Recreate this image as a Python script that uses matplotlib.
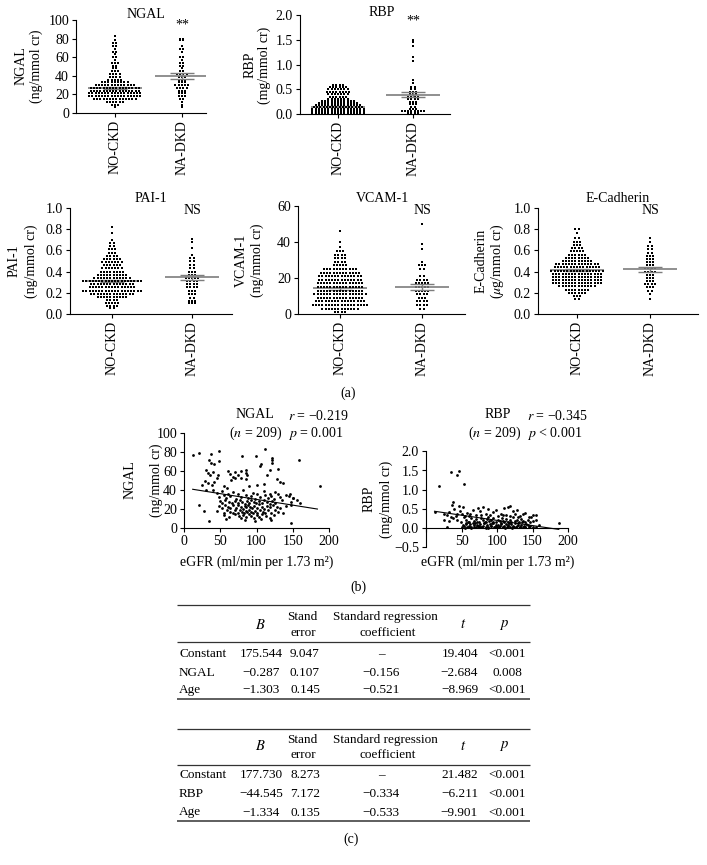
import matplotlib
matplotlib.use("Agg")
import matplotlib.pyplot as plt
import numpy as np

plt.rcParams["font.family"] = "Liberation Serif"
plt.rcParams["mathtext.fontset"] = "stix"
plt.rcParams["font.size"] = 10
plt.rcParams["axes.linewidth"] = 0.8
plt.rcParams["xtick.major.width"] = 0.8
plt.rcParams["ytick.major.width"] = 0.8
plt.rcParams["xtick.major.size"] = 3
plt.rcParams["ytick.major.size"] = 3

# ---------------------------------------------------------------- data ----
groups = ["NO-CKD", "NA-DKD"]

# dot plots: value level of each row and number of dots in that row
ngal_ckd_lv = [6, 9, 12, 15, 18, 21, 24, 27, 30, 33, 36, 39, 42, 45, 48, 51, 54, 57, 60, 63, 66, 69, 72, 75, 78, 83]
ngal_ckd_n = [1, 3, 6, 14, 17, 17, 16, 16, 13, 9, 5, 4, 4, 3, 2, 2, 3, 1, 2, 1, 2, 1, 2, 2, 1, 1]
ngal_dkd_lv = [6, 9, 12, 15, 18, 21, 24, 27, 30, 33, 36, 39, 42, 45, 48, 51, 54, 57, 60, 66, 69, 72, 78, 80]
ngal_dkd_n = [1, 1, 1, 2, 3, 3, 3, 4, 5, 3, 3, 3, 4, 2, 1, 2, 2, 1, 2, 1, 2, 1, 2, 2]

rbp_ckd_lv = [0.02, 0.06, 0.10, 0.14, 0.18, 0.22, 0.26, 0.30, 0.35, 0.40, 0.45, 0.50, 0.54, 0.58]
rbp_ckd_n = [17, 17, 17, 16, 15, 13, 11, 7, 6, 7, 8, 7, 6, 4]
rbp_dkd_lv = [0.02, 0.06, 0.10, 0.15, 0.20, 0.25, 0.30, 0.35, 0.40, 0.45, 0.50, 0.55, 0.62, 0.68, 1.08, 1.15, 1.38, 1.45, 1.49]
rbp_dkd_n = [4, 8, 3, 2, 3, 3, 4, 4, 3, 3, 2, 2, 1, 1, 1, 1, 1, 1, 1]

pai_ckd_lv = [0.06, 0.08, 0.10, 0.13, 0.16, 0.19, 0.22, 0.25, 0.28, 0.31, 0.34, 0.37, 0.40,
              0.43, 0.46, 0.49, 0.52, 0.55, 0.58, 0.61, 0.64, 0.67, 0.70, 0.76, 0.82]
pai_ckd_n = [2, 4, 5, 4, 10, 14, 19, 15, 14, 19, 12, 10, 8, 7, 6, 7, 6, 4, 3, 3, 2, 2, 1, 1, 1]
pai_dkd_lv = [0.10, 0.12, 0.15, 0.19, 0.22, 0.25, 0.28, 0.31, 0.34, 0.37, 0.40, 0.43, 0.46, 0.50, 0.53, 0.56, 0.62, 0.68, 0.71]
pai_dkd_n = [3, 3, 2, 3, 3, 4, 4, 4, 5, 3, 3, 2, 2, 2, 2, 1, 1, 1, 1]

vcam_ckd_lv = [1, 3, 5, 7, 9, 11, 13, 15, 17, 19, 21, 23, 25, 27, 29, 31, 33, 35, 37, 40, 46]
vcam_ckd_n = [4, 12, 18, 16, 15, 17, 15, 15, 15, 14, 14, 13, 11, 5, 4, 4, 4, 3, 1, 1, 1]
vcam_dkd_lv = [3, 5, 7, 9, 11, 13, 15, 17, 19, 21, 25, 27, 29, 36, 39, 50]
vcam_dkd_n = [2, 4, 4, 3, 4, 5, 5, 5, 4, 2, 2, 3, 1, 1, 1, 1]

ecad_ckd_lv = [0.14, 0.17, 0.20, 0.23, 0.26, 0.29, 0.32, 0.35, 0.38, 0.41, 0.44, 0.47, 0.50,
               0.53, 0.56, 0.59, 0.62, 0.65, 0.68, 0.72, 0.76, 0.80]
ecad_ckd_n = [2, 3, 6, 8, 12, 16, 16, 16, 16, 17, 15, 14, 10, 8, 6, 5, 4, 3, 3, 2, 1, 2]
ecad_dkd_lv = [0.14, 0.19, 0.22, 0.25, 0.28, 0.31, 0.34, 0.37, 0.40, 0.43, 0.46, 0.49, 0.52, 0.55, 0.58, 0.61, 0.64, 0.68, 0.72]
ecad_dkd_n = [1, 1, 2, 3, 4, 3, 3, 3, 4, 4, 3, 3, 3, 3, 2, 2, 2, 1, 1]

# mean and SEM per group
ngal_mean, ngal_sem = [27, 40], [1.2, 3.5]
rbp_mean, rbp_sem = [0.15, 0.39], [0.012, 0.055]
pai_mean, pai_sem = [0.31, 0.345], [0.01, 0.025]
vcam_mean, vcam_sem = [14.2, 15.0], [0.6, 1.6]
ecad_mean, ecad_sem = [0.415, 0.42], [0.01, 0.02]

# scatter (eGFR, marker value)
ngal_pts = [
    (13, 77), (21, 79), (37, 78), (48, 81), (80, 76), (99, 76), (112, 83), (121, 73), (122, 71), (121, 68),
    (106, 67), (105, 65), (158, 71), (35, 71), (37, 68), (41, 67), (48, 70), (30, 61), (33, 58), (36, 55),
    (40, 59), (47, 55), (60, 60), (63, 57), (70, 59), (68, 53), (75, 55), (79, 60), (85, 61), (86, 58),
    (87, 55), (85, 51), (79, 52), (70, 52), (65, 50), (115, 55), (119, 61), (130, 62), (133, 48), (137, 47),
    (128, 51), (110, 46), (101, 45), (90, 44), (25, 45), (29, 49), (33, 47), (38, 45), (42, 48), (45, 52),
    (55, 44), (59, 42), (40, 40), (31, 40), (146, 35), (151, 31), (156, 29), (160, 26), (187, 44), (148, 24),
    (147, 5), (34, 7), (20, 24), (27, 18),
    (45, 37), (52, 39), (60, 36), (68, 38), (75, 35), (82, 40), (95, 37), (100, 36), (110, 39), (118, 35),
    (125, 38), (130, 36), (140, 34),
    (48, 32), (55, 34), (58, 31), (63, 33), (72, 30), (78, 32), (85, 34), (88, 31), (92, 33), (98, 30),
    (105, 32), (112, 34), (116, 31), (120, 33), (124, 30), (132, 32), (145, 33), (150, 31),
    (50, 28), (53, 26), (57, 29.5), (62, 27), (66, 25.5), (70, 28.5), (74, 26), (77, 29), (80, 27.5), (84, 25),
    (87, 28), (90, 26.5), (93, 29), (96, 27), (99, 25.5), (103, 28), (107, 26), (110, 29.5), (114, 27), (118, 25),
    (121, 28.5), (126, 26), (135, 29), (147, 27.5),
    (48, 23), (52, 21), (56, 24), (60, 22), (64, 20.5), (68, 23.5), (72, 21), (75, 24), (78, 22), (81, 20),
    (84, 23), (86, 21.5), (88, 24), (91, 22), (94, 20.5), (97, 23), (100, 21), (104, 24.5), (108, 22), (111, 20),
    (115, 23), (119, 21.5), (123, 24), (128, 22), (133, 20.5), (140, 23),
    (45, 18), (55, 16), (59, 19), (63, 17), (67, 15.5), (71, 18.5), (74, 16), (77, 19), (80, 17), (83, 15),
    (85, 18), (87, 16.5), (90, 19), (92, 17), (95, 15.5), (98, 18), (101, 16), (105, 19), (109, 17), (112, 15),
    (116, 18.5), (120, 16), (125, 19), (130, 17), (137, 15.5),
    (55, 13), (62, 11), (70, 14), (76, 12), (79, 10.5), (82, 13.5), (86, 11), (89, 14), (93, 12), (96, 10),
    (100, 13), (104, 11.5), (108, 14), (113, 12), (118, 10.5), (124, 13),
    (58, 9), (84, 8), (98, 7), (106, 9), (120, 8),
]

rbp_pts = [
    (19, 1.10), (35, 1.45), (43, 1.37), (47, 1.49), (53, 1.15), (38, 0.68), (36, 0.60), (12, 0.42), (25, 0.38),
    (30, 0.04), (46, 0.57),
    (30, 0.35), (33, 0.42), (40, 0.50), (44, 0.38), (48, 0.45), (52, 0.55), (55, 0.32), (58, 0.40), (62, 0.36),
    (66, 0.48), (70, 0.33), (73, 0.52), (76, 0.44), (80, 0.56), (84, 0.38), (87, 0.50), (90, 0.34), (94, 0.42),
    (98, 0.46), (102, 0.31), (106, 0.38), (110, 0.52), (113, 0.35), (116, 0.55), (119, 0.58), (122, 0.44),
    (125, 0.37), (128, 0.48), (132, 0.32), (136, 0.36), (140, 0.40), (145, 0.30), (150, 0.33), (155, 0.35),
    (35, 0.30), (42, 0.32), (50, 0.36), (60, 0.31), (78, 0.34), (88, 0.30), (108, 0.33), (118, 0.31),
    (130, 0.30), (148, 0.28), (187, 0.12),
    (26, 0.22), (32, 0.18), (38, 0.26), (44, 0.20), (49, 0.16), (53, 0.28), (56, 0.21), (59, 0.17), (63, 0.25),
    (67, 0.19), (70, 0.23), (74, 0.15), (77, 0.27), (80, 0.20), (83, 0.16), (86, 0.24), (89, 0.18), (92, 0.22),
    (95, 0.26), (98, 0.15), (101, 0.21), (104, 0.19), (107, 0.25), (110, 0.17), (113, 0.23), (116, 0.16),
    (119, 0.20), (122, 0.28), (125, 0.18), (128, 0.22), (131, 0.15), (134, 0.24), (137, 0.19), (140, 0.17),
    (143, 0.21), (146, 0.16), (150, 0.18), (60, 0.15), (72, 0.17), (85, 0.16), (95, 0.15), (108, 0.18),
    (120, 0.16), (135, 0.15), (155, 0.20),
    (50, 0.03), (52, 0.08), (54, 0.05), (56, 0.12), (58, 0.02), (60, 0.06), (62, 0.10), (64, 0.04), (66, 0.13),
    (68, 0.07), (70, 0.03), (72, 0.09), (74, 0.05), (76, 0.11), (78, 0.02), (80, 0.06), (82, 0.14), (84, 0.04),
    (86, 0.08), (88, 0.03), (90, 0.10), (92, 0.05), (94, 0.12), (96, 0.02), (98, 0.07), (100, 0.04), (102, 0.09),
    (104, 0.06), (106, 0.13), (108, 0.03), (110, 0.05), (112, 0.11), (114, 0.02), (116, 0.08), (118, 0.04),
    (120, 0.10), (122, 0.06), (124, 0.03), (126, 0.12), (128, 0.05), (130, 0.07), (132, 0.02), (134, 0.09),
    (136, 0.04), (138, 0.06), (140, 0.03), (143, 0.08), (146, 0.05), (150, 0.02), (155, 0.04),
    (55, 0.01), (61, 0.04), (67, 0.02), (73, 0.05), (79, 0.03), (85, 0.01), (91, 0.06), (97, 0.02), (103, 0.04),
    (109, 0.03), (115, 0.05), (121, 0.01), (127, 0.03), (133, 0.02), (139, 0.04), (145, 0.02), (57, 0.11),
    (69, 0.13), (81, 0.12), (93, 0.14), (105, 0.11), (117, 0.13), (129, 0.12), (141, 0.10), (87, 0.01),
    (99, 0.02), (111, 0.01), (75, 0.02), (63, 0.01), (123, 0.03), (159, 0.07),
]

# regression lines: intercept, slope, eGFR range
ngal_fit = (41.9, -0.121, 12, 184)
rbp_fit = (0.471, -0.0027, 12, 187)
ngal_stats = ["$r$ = \u22120.219", "$p$ = 0.001"]
rbp_stats = ["$r$ = \u22120.345", "$p$ < 0.001"]

# regression tables
tab_rows1 = ["Constant", "NGAL", "Age"]
tab_B1 = ["175.544", "\u22120.287", "\u22121.303"]
tab_se1 = ["9.047", "0.107", "0.145"]
tab_beta1 = ["\u2013", "\u22120.156", "\u22120.521"]
tab_t1 = ["19.404", "\u22122.684", "\u22128.969"]
tab_p1 = ["<0.001", "0.008", "<0.001"]

tab_rows2 = ["Constant", "RBP", "Age"]
tab_B2 = ["177.730", "\u221244.545", "\u22121.334"]
tab_se2 = ["8.273", "7.172", "0.135"]
tab_beta2 = ["\u2013", "\u22120.334", "\u22120.533"]
tab_t2 = ["21.482", "\u22126.211", "\u22129.901"]
tab_p2 = ["<0.001", "<0.001", "<0.001"]

# -------------------------------------------------------------- figure ----
W, H = 707, 865
fig = plt.figure(figsize=(W / 100, H / 100), dpi=100)
GREY = "#7d7d7d"


def px_axes(x0, y0, x1, y1):
    return fig.add_axes([x0 / W, 1 - y1 / H, (x1 - x0) / W, (y1 - y0) / H])


ann = fig.add_axes([0, 0, 1, 1], zorder=10)
ann.set_xlim(0, W)
ann.set_ylim(H, 0)
ann.axis("off")
ann.patch.set_alpha(0)


def txt(x, y, s, **kw):
    kw.setdefault("ha", "center")
    kw.setdefault("va", "center")
    ann.text(x, y, s, **kw)


def ylab(x1, x2, y, s1, s2, size=10):
    txt(x1, y, s1, rotation=90, fontsize=size)
    txt(x2, y, s2, rotation=90, fontsize=size)


def clean(ax):
    ax.spines["top"].set_visible(False)
    ax.spines["right"].set_visible(False)
    ax.tick_params(direction="out", labelsize=10, pad=2)


def dot_panel(box, xlim, ylim, yticks, fmt, swarms, means, sems):
    x0, y0, x1, y1 = box
    ax = px_axes(x0, y0, x1, y1)
    ppu = (x1 - x0) / (xlim[1] - xlim[0])
    dx = 3.2 / ppu
    for i, (lv, ct) in enumerate(swarms):
        xs, ys = [], []
        for v, n in zip(lv, ct):
            xs.extend(i + (np.arange(n) - (n - 1) / 2) * dx)
            ys.extend([v] * n)
        ax.plot(xs, ys, "s", ms=2.0, mew=0, color="black", zorder=2, clip_on=False)
        hw, cw = 27 / ppu, 12 / ppu
        z = 1 if i == 0 else 3
        m, s = means[i], sems[i]
        ax.hlines(m, i - hw, i + hw, color=GREY, lw=1.2, zorder=z)
        ax.vlines(i, m - s, m + s, color=GREY, lw=1.0, zorder=z)
        ax.hlines([m - s, m + s], i - cw, i + cw, color=GREY, lw=1.0, zorder=z)
    ax.set_xlim(xlim)
    ax.set_ylim(ylim)
    ax.set_yticks(yticks)
    ax.set_yticklabels([fmt.format(t) for t in yticks])
    ax.set_xticks([0, 1])
    ax.set_xticklabels(groups, rotation=90, fontsize=9.5)
    clean(ax)
    return ax


# (a) dot plots
dot_panel((76, 20, 206, 113), (-0.58, 1.36), (0, 100), [0, 20, 40, 60, 80, 100], "{:g}",
          [(ngal_ckd_lv, ngal_ckd_n), (ngal_dkd_lv, ngal_dkd_n)], ngal_mean, ngal_sem)
dot_panel((300, 15, 450, 114), (-0.507, 1.493), (0, 2.0), [0, 0.5, 1.0, 1.5, 2.0], "{:.1f}",
          [(rbp_ckd_lv, rbp_ckd_n), (rbp_dkd_lv, rbp_dkd_n)], rbp_mean, rbp_sem)
dot_panel((70, 208, 232, 314), (-0.525, 1.5), (0, 1.0), [0, 0.2, 0.4, 0.6, 0.8, 1.0], "{:.1f}",
          [(pai_ckd_lv, pai_ckd_n), (pai_dkd_lv, pai_dkd_n)], pai_mean, pai_sem)
dot_panel((298, 206, 465, 314), (-0.512, 1.524), (0, 60), [0, 20, 40, 60], "{:g}",
          [(vcam_ckd_lv, vcam_ckd_n), (vcam_dkd_lv, vcam_dkd_n)], vcam_mean, vcam_sem)
dot_panel((538, 208, 698, 314), (-0.534, 1.658), (0, 1.0), [0, 0.2, 0.4, 0.6, 0.8, 1.0], "{:.1f}",
          [(ecad_ckd_lv, ecad_ckd_n), (ecad_dkd_lv, ecad_dkd_n)], ecad_mean, ecad_sem)

txt(146, 14, "NGAL")
txt(182, 25, "**")
txt(382, 13, "RBP")
txt(413, 21, "**")
txt(151, 198, "PAI-1")
txt(192, 210, "NS")
txt(382, 198, "VCAM-1")
txt(422, 210, "NS")
txt(618, 198, "E-Cadherin")
txt(650, 210, "NS")
ylab(21.5, 36.5, 66, "NGAL", "(ng/mmol cr)")
ylab(250, 264, 65, "RBP", "(mg/mmol cr)")
ylab(14, 31, 261, "PAI-1", "(ng/mmol cr)")
ylab(241.5, 257, 260, "VCAM-1", "(ng/mmol cr)")
ylab(481, 497, 261, "E-Cadherin", r"($\mu$g/mmol cr)")
txt(348, 393, "(a)")

# (b) scatter plots
ax = px_axes(184, 432.7, 329, 527.7)
ex, ey = zip(*ngal_pts)
ax.plot(ex, ey, "o", ms=2.0, mew=0, color="black", clip_on=False)
b0, b1, xa, xb = ngal_fit
ax.plot([xa, xb], [b0 + b1 * xa, b0 + b1 * xb], color="black", lw=0.8)
ax.set_xlim(0, 200)
ax.set_ylim(0, 100)
ax.set_xticks([0, 50, 100, 150, 200])
ax.set_yticks([0, 20, 40, 60, 80, 100])
clean(ax)
txt(256.5, 562, "eGFR (ml/min per 1.73 m\u00b2)")
ylab(130, 156, 480, "NGAL", "(ng/mmol cr)")
txt(255, 415, "NGAL")
txt(256, 433, "($n$ = 209)")
txt(288, 416, ngal_stats[0], ha="left")
txt(288, 433, ngal_stats[1], ha="left")

ax = px_axes(426, 451.3, 568, 547.3)
ex, ey = zip(*rbp_pts)
ax.plot(ex, ey, "o", ms=2.0, mew=0, color="black", clip_on=False)
b0, b1, xa, xb = rbp_fit
ax.plot([xa, xb], [b0 + b1 * xa, b0 + b1 * xb], color="black", lw=0.8)
ax.set_xlim(0, 200)
ax.set_ylim(-0.5, 2.0)
ax.spines["bottom"].set_position(("data", 0))
ax.set_xticks([0, 50, 100, 150, 200])
ax.set_xticklabels(["", "50", "100", "150", "200"])
ax.set_yticks([-0.5, 0, 0.5, 1.0, 1.5, 2.0])
ax.set_yticklabels(["\u22120.5", "0.0", "0.5", "1.0", "1.5", "2.0"])
clean(ax)
txt(497.5, 562, "eGFR (ml/min per 1.73 m\u00b2)")
ylab(369, 386, 499, "RBP", "(mg/mmol cr)")
txt(498, 415, "RBP")
txt(495, 433, "($n$ = 209)")
txt(527, 416, rbp_stats[0], ha="left")
txt(527, 433, rbp_stats[1], ha="left")
txt(358, 587, "(b)")


# (c) regression tables
def table(top, rule, bottom, rows_y, head_y, rows, B, se, beta, t, p):
    for y, lw in ((top, 0.9), (rule, 0.9), (bottom, 1.1)):
        ann.plot([177, 530], [y, y], color="#333333", lw=lw, solid_capstyle="butt")
    fs = 9.5
    txt(260, head_y[1], "$B$", fontsize=fs + 1)
    txt(302, head_y[0], "Stand", fontsize=fs)
    txt(303, head_y[2], "error", fontsize=fs)
    txt(385, head_y[0], "Standard regression", fontsize=fs)
    txt(388, head_y[2], "coefficient", fontsize=fs)
    txt(463, head_y[1], "$t$", fontsize=fs + 1)
    txt(504, head_y[1], "$p$", fontsize=fs + 1)
    for y, r, b, s, be, tt, pp in zip(rows_y, rows, B, se, beta, t, p):
        txt(179, y, r, ha="left", fontsize=fs)
        txt(261, y, b, fontsize=fs)
        txt(305, y, s, fontsize=fs)
        txt(381, y, be, fontsize=fs)
        txt(478, y, tt, ha="right", fontsize=fs)
        txt(507, y, pp, fontsize=fs)


table(605, 642, 698.5, [654, 673, 690], [617, 625, 633],
      tab_rows1, tab_B1, tab_se1, tab_beta1, tab_t1, tab_p1)
table(729, 765, 821, [775, 794, 812.5], [740, 746, 755],
      tab_rows2, tab_B2, tab_se2, tab_beta2, tab_t2, tab_p2)
txt(351, 839, "(c)")

fig.savefig("out.png", dpi=100, facecolor="white")
